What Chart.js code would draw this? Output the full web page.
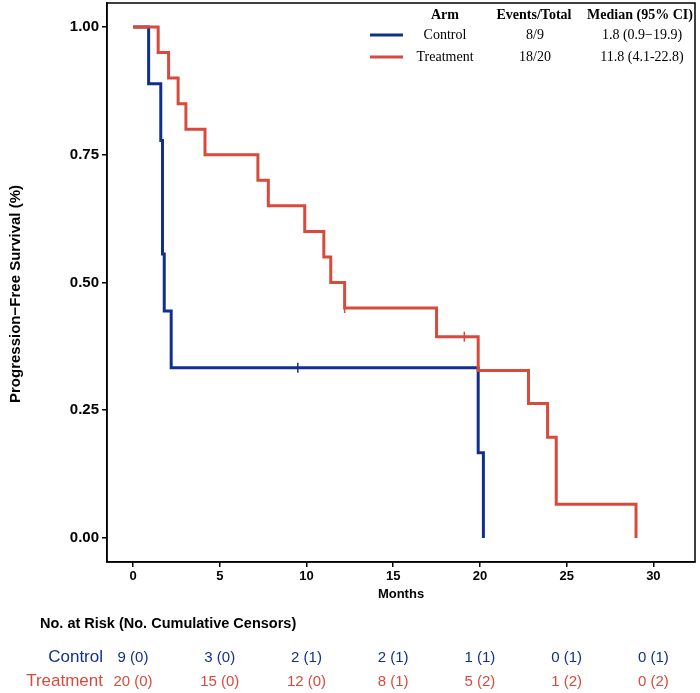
<!DOCTYPE html>
<html>
<head>
<meta charset="utf-8">
<script src="https://cdn.jsdelivr.net/npm/chart.js@4"></script>
<style>
  html, body { margin: 0; padding: 0; background: #fff; }
  #wrap { width: 700px; height: 693px; position: relative; }
</style>
</head>
<body>
<div id="wrap"><canvas id="km"></canvas></div>
<script>
// --- data ---
const xTicks = [0, 5, 10, 15, 20, 25, 30];
const yTicks = [0, 0.25, 0.5, 0.75, 1];

const controlTimes = [0, 0.9, 1.6, 1.7, 1.8, 2.2, 19.9, 20.2];
const controlSurv  = [1, 0.889, 0.778, 0.556, 0.444, 0.333, 0.167, 0];
const controlCensorTimes = [9.5];

const treatmentTimes = [0, 1.45, 2.05, 2.6, 3.05, 4.15, 7.2, 7.8, 9.9, 11.0, 11.4, 12.2, 17.5, 19.9, 22.8, 23.9, 24.4, 29.0];
const treatmentSurv  = [1, 0.95, 0.90, 0.85, 0.80, 0.75, 0.70, 0.65, 0.60, 0.55, 0.50, 0.45, 0.394, 0.328, 0.263, 0.197, 0.066, 0];
const treatmentCensorTimes = [12.2, 19.1];

const riskTimes = [0, 5, 10, 15, 20, 25, 30];
const controlAtRisk = [9, 3, 2, 2, 1, 0, 0];
const controlCensored = [0, 0, 1, 1, 1, 1, 1];
const treatmentAtRisk = [20, 15, 12, 8, 5, 1, 0];
const treatmentCensored = [0, 0, 0, 1, 2, 2, 2];

const armNames = ['Control', 'Treatment'];
const armEvents = ['8/9', '18/20'];
const armMedians = ['1.8 (0.9\u221219.9)', '11.8 (4.1-22.8)'];

const BLUE = '#11308e';
const RED = '#d84b3c';
const armColors = [BLUE, RED];

const SANS = '"Liberation Sans", Arial, Helvetica, sans-serif';
const SERIF = '"Liberation Serif", "Times New Roman", serif';

// step value at time t
function survAt(times, surv, t) {
    let s = surv[0];
    for (let i = 0; i < times.length; i++) {
        if (times[i] <= t) s = surv[i];
    }
    return s;
}

const toPoints = (xs, ys) => xs.map((x, i) => ({ x: x, y: ys[i] }));

// --- frame, y title, legend table, risk table ---
const extras = {
    id: 'extras',
    afterDraw(chart) {
        const ctx = chart.ctx;
        const area = chart.chartArea;
        const xs = chart.scales.x;

        ctx.save();
        // frame
        ctx.strokeStyle = '#000';
        ctx.lineWidth = 1.5;
        ctx.strokeRect(area.left, area.top, area.right - area.left, area.bottom - area.top);

        // y title
        ctx.save();
        ctx.translate(16, 294);
        ctx.rotate(-Math.PI / 2);
        ctx.textAlign = 'center';
        ctx.textBaseline = 'middle';
        ctx.fillStyle = '#000';
        ctx.font = 'bold 15px ' + SANS;
        ctx.fillText('Progression\u2212Free Survival (%)', 0, 0);
        ctx.restore();

        // legend table
        ctx.textBaseline = 'middle';
        ctx.textAlign = 'center';
        ctx.fillStyle = '#000';
        ctx.font = 'bold 14px ' + SERIF;
        ctx.fillText('Arm', 445, 15);
        ctx.fillText('Events/Total', 534, 15);
        ctx.fillText('Median (95% CI)', 640, 15);
        ctx.font = '14px ' + SERIF;
        const rowsY = [35, 57];
        armNames.forEach((name, i) => {
            ctx.strokeStyle = armColors[i];
            ctx.lineWidth = 3;
            ctx.beginPath();
            ctx.moveTo(370, rowsY[i]);
            ctx.lineTo(403, rowsY[i]);
            ctx.stroke();
            ctx.fillStyle = '#000';
            ctx.fillText(name, 445, rowsY[i]);
            ctx.fillText(armEvents[i], 535, rowsY[i]);
            ctx.fillText(armMedians[i], 642, rowsY[i]);
        });

        // risk table
        ctx.textAlign = 'left';
        ctx.fillStyle = '#000';
        ctx.font = 'bold 14.5px ' + SANS;
        ctx.fillText('No. at Risk (No. Cumulative Censors)', 40, 624);

        const tableRows = [
            { y: 657, risk: controlAtRisk, cens: controlCensored },
            { y: 681, risk: treatmentAtRisk, cens: treatmentCensored }
        ];
        tableRows.forEach((row, i) => {
            ctx.fillStyle = armColors[i];
            ctx.textAlign = 'right';
            ctx.font = '17px ' + SANS;
            ctx.fillText(armNames[i], 103, row.y);
            ctx.textAlign = 'center';
            ctx.font = '15px ' + SANS;
            riskTimes.forEach((t, j) => {
                ctx.fillText(`${row.risk[j]} (${row.cens[j]})`, xs.getPixelForValue(t), row.y + 1);
            });
        });
        ctx.restore();
    }
};

new Chart(document.getElementById('km'), {
    type: 'line',
    data: {
        datasets: [
            {
                label: 'Treatment',
                data: toPoints(treatmentTimes, treatmentSurv),
                borderColor: RED,
                borderWidth: 3,
                stepped: 'before',
                pointRadius: 0,
                order: 0
            },
            {
                label: 'Control',
                data: toPoints(controlTimes, controlSurv),
                borderColor: BLUE,
                borderWidth: 3,
                stepped: 'before',
                pointRadius: 0,
                order: 1
            },
            {
                label: 'Treatment censored',
                data: treatmentCensorTimes.map(t => ({ x: t, y: survAt(treatmentTimes, treatmentSurv, t) })),
                showLine: false,
                pointStyle: 'line',
                rotation: 90,
                pointRadius: 5,
                pointBorderWidth: 1.5,
                borderColor: RED,
                pointBorderColor: RED,
                order: 0
            },
            {
                label: 'Control censored',
                data: controlCensorTimes.map(t => ({ x: t, y: survAt(controlTimes, controlSurv, t) })),
                showLine: false,
                pointStyle: 'line',
                rotation: 90,
                pointRadius: 5,
                pointBorderWidth: 1.5,
                borderColor: BLUE,
                pointBorderColor: BLUE,
                order: 1
            }
        ]
    },
    options: {
        responsive: true,
        maintainAspectRatio: false,
        animation: false,
        layout: { autoPadding: false, padding: { top: 3, right: 5, bottom: 91, left: 0 } },
        plugins: {
            legend: { display: false },
            tooltip: { enabled: false }
        },
        scales: {
            x: {
                type: 'linear',
                min: -1.5,
                max: 32.4,
                afterBuildTicks: s => { s.ticks = xTicks.map(v => ({ value: v })); },
                afterFit: s => { s.height = 40; s.paddingLeft = 0; s.paddingRight = 0; },
                ticks: { color: '#000', font: { family: SANS, size: 13, weight: 'bold' }, padding: 2, maxRotation: 0 },
                grid: { display: true, drawOnChartArea: false, tickLength: 5, color: '#000', lineWidth: 1.5 },
                border: { display: true, color: '#000', width: 1.5 },
                title: {
                    display: true,
                    text: 'Months',
                    color: '#000',
                    font: { family: SANS, size: 13, weight: 'bold' },
                    padding: { top: 0, bottom: 0 }
                }
            },
            y: {
                type: 'linear',
                min: -0.047,
                max: 1.047,
                afterBuildTicks: s => { s.ticks = yTicks.map(v => ({ value: v })); },
                afterFit: s => { s.width = 107; s.paddingTop = 0; s.paddingBottom = 0; },
                ticks: { color: '#000', font: { family: SANS, size: 15, weight: 'bold' }, padding: 3, callback: v => v.toFixed(2) },
                grid: { display: true, drawOnChartArea: false, tickLength: 5, color: '#000', lineWidth: 1.5 },
                border: { display: true, color: '#000', width: 1.5 }
            }
        }
    },
    plugins: [extras]
});
</script>
</body>
</html>
